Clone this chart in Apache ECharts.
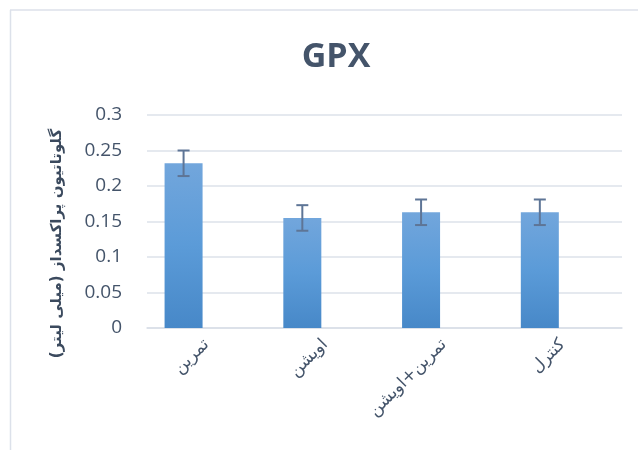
<!DOCTYPE html>
<html><head><meta charset="utf-8">
<script src="https://cdn.jsdelivr.net/npm/echarts@6/dist/echarts.min.js"></script>
<style>html,body{margin:0;padding:0;background:#fff}#c{width:638px;height:450px}</style>
</head><body><div id="c"></div>
<script>
var categories = ['تمرین', 'اویشن', 'تمرین+اویشن', 'کنترل'];
var means = [0.232, 0.155, 0.163, 0.163];
var errors = [0.018, 0.018, 0.018, 0.018];
var yTicks = { min: 0, max: 0.3, interval: 0.05 };

var BAR_W = 38, BAR_GAP = 0.2;
var barOffset = (BAR_W + BAR_W * BAR_GAP) / 2;
var txt = '#44546A';
var chart = echarts.init(document.getElementById('c'), null, { renderer: 'canvas' });
chart.setOption({
  animation: false,
  backgroundColor: '#fff',
  title: { text: 'GPX', left: 331, top: 35, textAlign: 'center',
    textStyle: { fontFamily: 'Open Sans', fontWeight: 'bold', fontSize: 34, color: '#44546A' } },
  grid: { left: 147, right: 16, top: 115, bottom: 122 },
  graphic: [
    { type: 'line', shape: { x1: 10.5, y1: 10, x2: 10.5, y2: 450 }, style: { stroke: '#DCE1EA', lineWidth: 1.5 } },
    { type: 'line', shape: { x1: 10, y1: 10, x2: 638, y2: 10 }, style: { stroke: '#DCE1EA', lineWidth: 1.5 } }
  ],
  xAxis: {
    type: 'category', data: categories,
    axisTick: { show: false },
    axisLine: { lineStyle: { color: '#D9DEE8', width: 1.5 } },
    axisLabel: { rotate: 45, margin: 14, fontSize: 17, color: txt, fontFamily: 'DejaVu Sans' }
  },
  yAxis: {
    type: 'value', min: yTicks.min, max: yTicks.max, interval: yTicks.interval,
    axisLine: { show: false }, axisTick: { show: false },
    splitLine: { lineStyle: { color: '#DDE2EA', width: 1.5 } },
    axisLabel: { fontSize: 19, color: txt, fontFamily: 'Open Sans', margin: 25 },
    name: 'گلوتاتیون پراکسداز (میلی لیتر)', nameLocation: 'middle', nameGap: 82,
    nameTextStyle: { fontSize: 15, fontWeight: 'bold', color: '#3B4A5E', fontFamily: 'DejaVu Sans', padding: [0, 44, 0, 0] }
  },
  series: [
    {
      type: 'bar', data: means, barWidth: BAR_W, barGap: (BAR_GAP * 100) + '%',
      itemStyle: { color: new echarts.graphic.LinearGradient(0, 0, 0, 1, [
        { offset: 0, color: '#72A6DC' }, { offset: 0.5, color: '#5B9BD8' }, { offset: 1, color: '#4788C8' }]) }
    },
    { type: 'bar', data: categories.map(function () { return null; }), barWidth: BAR_W },
    {
      type: 'custom', z: 10,
      data: means.map(function (m, i) { return [i, m - errors[i], m + errors[i]]; }),
      renderItem: function (params, api) {
        var lo = api.coord([api.value(0), api.value(1)]);
        var hi = api.coord([api.value(0), api.value(2)]);
        var x = lo[0] - barOffset, cw = 6;
        var st = { stroke: '#5E7596', lineWidth: 2 };
        return { type: 'group', children: [
          { type: 'line', shape: { x1: x, y1: lo[1], x2: x, y2: hi[1] }, style: st },
          { type: 'line', shape: { x1: x - cw, y1: lo[1], x2: x + cw, y2: lo[1] }, style: st },
          { type: 'line', shape: { x1: x - cw, y1: hi[1], x2: x + cw, y2: hi[1] }, style: st }
        ] };
      }
    }
  ]
});
</script></body></html>
